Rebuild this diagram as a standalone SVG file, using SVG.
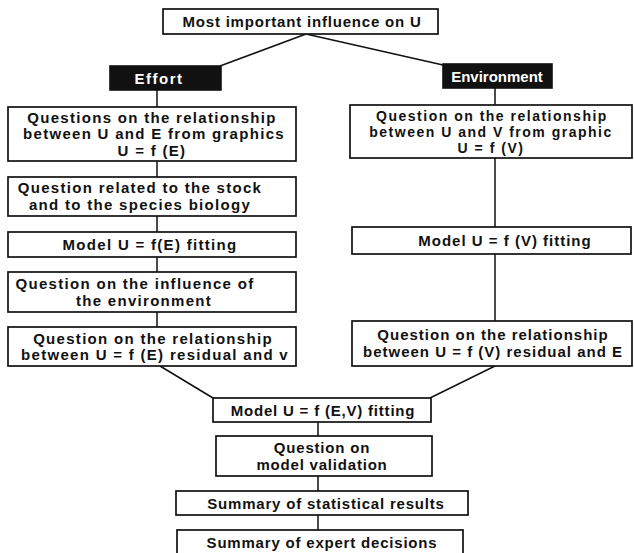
<svg xmlns="http://www.w3.org/2000/svg" width="634" height="553" viewBox="0 0 634 553">
<style>
.b{fill:#fff;stroke:#111;stroke-width:1.7}
.k{fill:#111;stroke:#111;stroke-width:1.6}
.t{font-family:"Liberation Sans",Arial,sans-serif;font-weight:bold;font-size:15px;fill:#111;text-anchor:middle;letter-spacing:0.8px}
.l{letter-spacing:1.3px}
.r{letter-spacing:1px}
.s{font-size:14px;letter-spacing:1.5px}
.w{fill:#fff}
.c{stroke:#111;stroke-width:1.5;fill:none}
</style>
<rect width="634" height="553" fill="#fff"/>
<g id="connectors">
<path class="c" d="M306,34 L220,66 M306,34 L443,65"/>
<path class="c" d="M157,90 V107 M157,161 V177 M157,216 V232 M157,257 V272 M157,312 V327"/>
<path class="c" d="M495,88 V105 M495,158 V227 M495,254 V321"/>
<path class="c" d="M160,366 L213,398 M495,366 L430,398"/>
<path class="c" d="M318,422 V436 M318,476 V491 M318,515 V530"/>
</g>
<g id="top"><rect class="b" x="163" y="9" width="275" height="25"/><text class="t" x="302" y="27">Most important influence on U</text></g>
<g id="effort"><rect class="k" x="110" y="66" width="111" height="24"/><text class="t w" x="159" y="84" style="letter-spacing:1.5px">Effort</text></g>
<g id="environment"><rect class="k" x="443" y="64" width="109" height="24"/><text class="t w" x="497" y="82" style="letter-spacing:0">Environment</text></g>
<g id="l1"><rect class="b" x="8" y="107" width="288" height="54"/><text class="t l" x="152" y="123">Questions on the relationship</text><text class="t l" x="154" y="139">between U and E from graphics</text><text class="t l" x="152" y="156">U = f (E)</text></g>
<g id="l2"><rect class="b" x="8" y="177" width="288" height="39"/><text class="t l" x="140" y="193">Question related to the stock</text><text class="t l" x="140" y="210">and to the species biology</text></g>
<g id="l3"><rect class="b" x="8" y="232" width="288" height="25"/><text class="t l" x="150" y="250">Model  U = f(E) fitting</text></g>
<g id="l4"><rect class="b" x="8" y="272" width="288" height="40"/><text class="t l" x="135" y="289">Question on the influence of</text><text class="t l" x="144" y="306">the environment</text></g>
<g id="l5"><rect class="b" x="8" y="327" width="288" height="39"/><text class="t l" x="153" y="344">Question on the relationship</text><text class="t l" x="155" y="360">between U = f (E) residual and v</text></g>
<g id="r1"><rect class="b" x="350" y="105" width="282" height="53"/><text class="t s" x="492" y="121">Question on the relationship</text><text class="t s" x="491" y="137">between U and V from graphic</text><text class="t s" x="491" y="153">U = f (V)</text></g>
<g id="r2"><rect class="b" x="352" y="227" width="279" height="27"/><text class="t r" x="505" y="246">Model U = f (V) fitting</text></g>
<g id="r3"><rect class="b" x="352" y="321" width="280" height="45"/><text class="t r" x="493" y="340">Question on the relationship</text><text class="t r" x="493" y="357">between U = f (V) residual and E</text></g>
<g id="m1"><rect class="b" x="213" y="398" width="218" height="24"/><text class="t" x="323" y="416">Model U = f (E,V) fitting</text></g>
<g id="m2"><rect class="b" x="216" y="436" width="216" height="40"/><text class="t" x="322" y="453">Question on</text><text class="t" x="322" y="470">model validation</text></g>
<g id="m3"><rect class="b" x="176" y="491" width="292" height="24"/><text class="t" x="326" y="509">Summary of statistical results</text></g>
<g id="m4"><rect class="b" x="177" y="530" width="286" height="30"/><text class="t" x="322" y="548">Summary of expert decisions</text></g>
</svg>
